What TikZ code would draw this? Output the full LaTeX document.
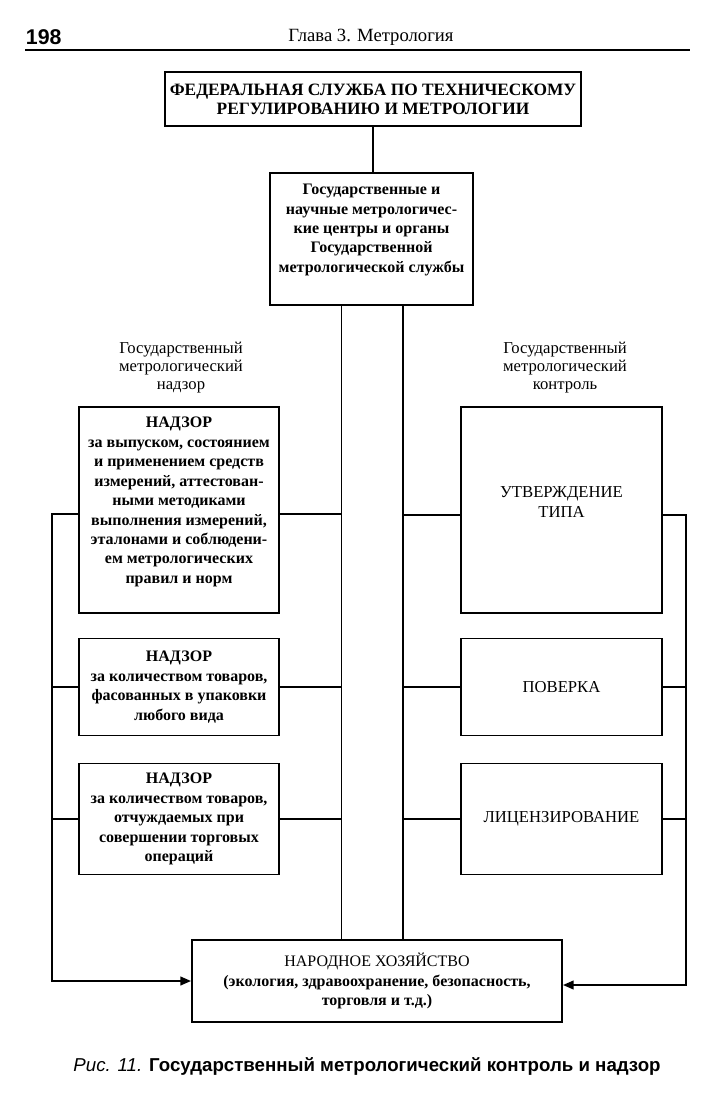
\documentclass[tikz,border=0pt]{standalone}
\usepackage{fontspec}
\setmainfont{Liberation Serif}
\newfontfamily\sansf{Liberation Sans}
\usetikzlibrary{arrows.meta,calc}
\begin{document}
\begin{tikzpicture}[x=0.75pt,y=-0.75pt, line width=1.4pt,
  box/.style={draw, line width=1.4pt, inner sep=0pt},
  bt/.style={align=center, font=\bfseries\fontsize{12}{14.6}\selectfont},
  rt/.style={align=center, font=\fontsize{12.5}{14.6}\selectfont},
  lbl/.style={align=center, font=\fontsize{12.5}{13.5}\selectfont},
  arr/.style={-{Triangle[length=8pt,width=6.5pt]}}]
\useasboundingbox[fill=white] (0,0) rectangle (709,1109);
% header
\node[anchor=west, font=\sansf\bfseries\fontsize{16}{18}\selectfont, inner sep=0pt] (pg) at (25,37) {198};
\node[font=\fontsize{14}{16}\selectfont, inner sep=0pt] (hd) at (371,37) {Глава 3. Метрология};
\coordinate (rl) at (25,50);
\coordinate (rr) at (690,50);
\draw[line width=2pt] (rl) -- (rr);
% top box
\node[box, minimum width=312pt, minimum height=40.5pt, bt, font=\bfseries\fontsize{13}{14.4}\selectfont] (top) at (373,99)
  {ФЕДЕРАЛЬНАЯ СЛУЖБА ПО ТЕХНИЧЕСКОМУ\\РЕГУЛИРОВАНИЮ И МЕТРОЛОГИИ};
% middle box
\node[box, minimum width=152.25pt, minimum height=99pt] (mid) at (371.5,239) {};
\node[bt] (midt) at (371.5,230) {Государственные и\\научные метрологичес-\\кие центры и органы\\Государственной\\метрологической службы};
\draw (top.south) -- (top.south |- mid.north);
% labels
\node[lbl] (lnadz) at (181,368) {Государственный\\метрологический\\надзор};
\node[lbl] (rkont) at (565,368) {Государственный\\метрологический\\контроль};
% left boxes
\node[box, minimum width=150pt, minimum height=154.5pt] (L1) at (179,510) {};
\node[bt] (L1t) at (179,502) {НАДЗОР\\за выпуском, состоянием\\и применением средств\\измерений, аттестован-\\ными методиками\\выполнения измерений,\\эталонами и соблюдени-\\ем метрологических\\правил и норм};
\node[box, minimum width=150pt, minimum height=72.75pt, bt] (L2) at (179,687) {НАДЗОР\\за количеством товаров,\\фасованных в упаковки\\любого вида};
\node[box, minimum width=150pt, minimum height=83.25pt, bt] (L3) at (179,819) {НАДЗОР\\за количеством товаров,\\отчуждаемых при\\совершении торговых\\операций};
% right boxes
\node[box, minimum width=150.75pt, minimum height=154.5pt] (R1) at (561.5,510) {};
\node[rt] (R1t) at (561.5,502) {УТВЕРЖДЕНИЕ\\ТИПА};
\node[box, minimum width=150.75pt, minimum height=72.75pt, rt] (R2) at (561.5,687) {ПОВЕРКА};
\node[box, minimum width=150.75pt, minimum height=83.25pt, rt] (R3) at (561.5,819) {ЛИЦЕНЗИРОВАНИЕ};
% bottom box
\node[box, minimum width=277.5pt, minimum height=61.5pt, align=center, font=\fontsize{12}{14.6}\selectfont] (bot) at (377,981)
  {НАРОДНОЕ ХОЗЯЙСТВО\\\textbf{(экология, здравоохранение, безопасность,}\\\textbf{торговля и т.д.)}};
% vertical trunks
\coordinate (vlt) at (341.5,305);
\coordinate (vrt) at (403,305);
\draw (vlt) -- (vlt |- bot.north);
\draw (vrt) -- (vrt |- bot.north);
% left connections
\draw ($(L1.east)+(0,4)$) -- ($(L1.east -| vlt)+(0,4)$);
\draw (L2.east) -- (L2.east -| vlt);
\draw (L3.east) -- (L3.east -| vlt);
\coordinate (lbus) at (52,514);
\draw[arr] ($(L1.west)+(0,4)$) -- (lbus) |- (bot.west);
\draw (L2.west) -- (L2.west -| lbus);
\draw (L3.west) -- (L3.west -| lbus);
% right connections
\draw ($(R1.west)+(0,5)$) -- ($(R1.west -| vrt)+(0,5)$);
\draw (R2.west) -- (R2.west -| vrt);
\draw (R3.west) -- (R3.west -| vrt);
\coordinate (rbus) at (686,515);
\coordinate (rend) at ($(bot.east)+(0,4)$);
\draw[arr] ($(R1.east)+(0,5)$) -- (rbus) |- (rend);
\draw (R2.east) -- (R2.east -| rbus);
\draw (R3.east) -- (R3.east -| rbus);
% caption
\node[font=\sansf\fontsize{14}{16}\selectfont] (cap) at (367,1066) {\textit{Рис. 11.} \textbf{Государственный метрологический контроль и надзор}};
\end{tikzpicture}
\end{document}
